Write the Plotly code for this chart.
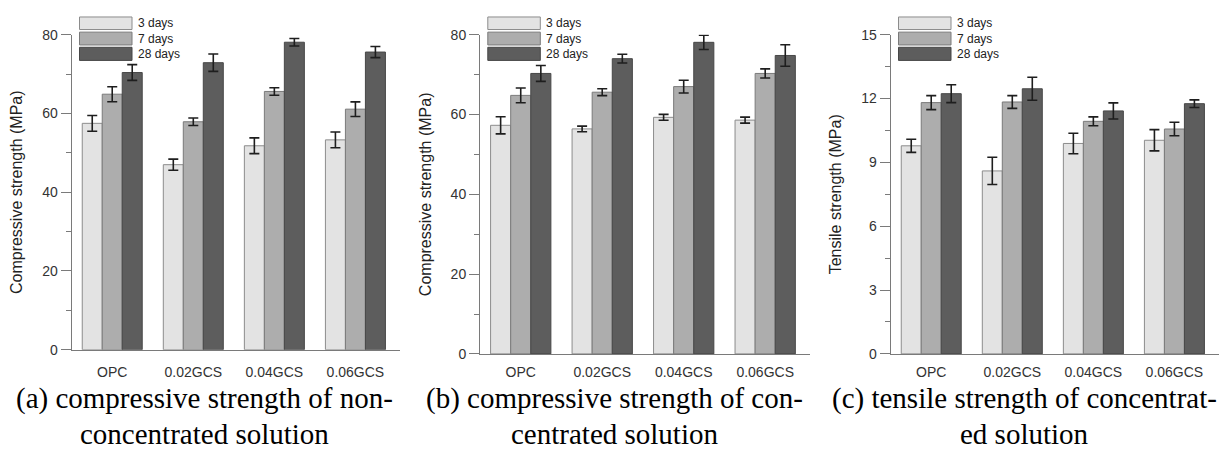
import plotly.graph_objects as go

# ---------------- data ----------------
categories = ["OPC", "0.02GCS", "0.04GCS", "0.06GCS"]
ages = ["3 days", "7 days", "28 days"]

# (a) compressive strength, non-concentrated solution (MPa)
a_3d = [57.5, 47.0, 51.8, 53.3]
a_3d_err = [2.0, 1.4, 2.0, 2.0]
a_7d = [64.9, 57.9, 65.6, 61.1]
a_7d_err = [1.9, 0.95, 0.95, 1.85]
a_28d = [70.4, 72.9, 78.1, 75.6]
a_28d_err = [2.0, 2.2, 0.95, 1.4]

# (b) compressive strength, concentrated solution (MPa)
b_3d = [57.3, 56.4, 59.3, 58.6]
b_3d_err = [2.15, 0.7, 0.75, 0.75]
b_7d = [64.8, 65.6, 67.0, 70.3]
b_7d_err = [1.85, 0.85, 1.6, 1.15]
b_28d = [70.3, 74.0, 78.1, 74.8]
b_28d_err = [2.0, 1.1, 1.8, 2.7]

# (c) tensile strength, concentrated solution (MPa)
c_3d = [9.78, 8.60, 9.89, 10.04]
c_3d_err = [0.31, 0.64, 0.48, 0.50]
c_7d = [11.81, 11.84, 10.93, 10.57]
c_7d_err = [0.33, 0.30, 0.21, 0.32]
c_28d = [12.23, 12.46, 11.42, 11.76]
c_28d_err = [0.42, 0.54, 0.38, 0.18]

y_titles = ["Compressive strength (MPa)", "Compressive strength (MPa)", "Tensile strength (MPa)"]
captions = [
    ["(a) compressive strength of non-", "concentrated solution"],
    ["(b) compressive strength of con-", "centrated solution"],
    ["(c) tensile strength of concentrat-", "ed solution"],
]

# ---------------- styling ----------------
W, H = 1229, 462
fills = ["#e3e3e3", "#adadad", "#5d5d5d"]
edges = ["#8c8c8c", "#7a7a7a", "#474747"]
axis_col = "#7a7a7a"
tick_font = dict(family="Liberation Sans, Arial, sans-serif", size=14, color="#333333")


def fx(p):
    return p / W


def fy(p):
    return 1 - p / H


# pixel boxes of the three plot areas: (left, right, top, bottom)
boxes = [(71.7, 400.0, 27.7, 354.0), (480.0, 810.0, 27.7, 358.3), (890.7, 1219.0, 27.7, 358.3)]
label_standoffs = [9, 5, 5]
y_ranges = [[0, 80], [0, 80], [0, 15]]
y_dticks = [20, 20, 3]

panels = [
    [(a_3d, a_3d_err), (a_7d, a_7d_err), (a_28d, a_28d_err)],
    [(b_3d, b_3d_err), (b_7d, b_7d_err), (b_28d, b_28d_err)],
    [(c_3d, c_3d_err), (c_7d, c_7d_err), (c_28d, c_28d_err)],
]

fig = go.Figure()
layout = dict(
    width=W, height=H, margin=dict(l=0, r=0, t=0, b=0),
    paper_bgcolor="white", plot_bgcolor="white",
    barmode="group", bargap=0.26, bargroupgap=0.0,
    showlegend=False,
)
shapes, annotations = [], []

for i, series in enumerate(panels):
    sfx = "" if i == 0 else str(i + 1)
    xa, ya = "x" + sfx, "y" + sfx
    for k, (vals, errs) in enumerate(series):
        fig.add_trace(go.Bar(
            x=categories, y=vals, name=ages[k], xaxis=xa, yaxis=ya,
            offsetgroup=str(k),
            marker=dict(color=fills[k], line=dict(color=edges[k], width=1)),
            error_y=dict(type="data", array=errs, visible=True,
                         color="#1e1e1e", thickness=1.6, width=5),
        ))
    l, r, t, b = boxes[i]
    layout["xaxis" + sfx] = dict(
        domain=[fx(l), fx(r)], anchor=ya, range=[-0.5, 3.55],
        showline=True, linecolor=axis_col, linewidth=1, ticks="",
        ticklabelstandoff=label_standoffs[i],
        tickfont=tick_font, showgrid=False, zeroline=False, fixedrange=True,
    )
    layout["yaxis" + sfx] = dict(
        domain=[fy(b), fy(t)], anchor=xa, range=y_ranges[i],
        dtick=y_dticks[i], tick0=0,
        showline=True, linecolor=axis_col, linewidth=1,
        ticks="outside", ticklen=10, tickcolor=axis_col, tickwidth=1,
        minor=dict(dtick=y_dticks[i] / 2, ticks="outside", ticklen=5,
                   tickcolor=axis_col, tickwidth=1),
        tickfont=tick_font, showgrid=False, zeroline=False, fixedrange=True,
        title=dict(text=y_titles[i], standoff=15,
                   font=dict(family="Liberation Sans, Arial, sans-serif", size=16, color="#222222")),
    )

    # legend block (large swatches like the original)
    sw_l = l + 7.8
    sw_r = sw_l + 52.5
    rows = [(9.3, 22.3), (25.0, 38.3), (40.7, 54.3)]
    for k, (rt, rb) in enumerate(rows):
        shapes.append(dict(
            type="rect", xref="paper", yref="paper",
            x0=fx(sw_l), x1=fx(sw_r), y0=fy(rb), y1=fy(rt),
            fillcolor=fills[k], line=dict(color=edges[k], width=1),
        ))
        annotations.append(dict(
            xref="paper", yref="paper", x=fx(sw_r + 4), y=fy((rt + rb) / 2),
            text=ages[k], showarrow=False, xanchor="left", yanchor="middle",
            font=dict(family="Liberation Sans, Arial, sans-serif", size=12, color="#222222"),
        ))

    # caption below the panel
    cx = (2 * i + 1) / 6
    for j, line in enumerate(captions[i]):
        annotations.append(dict(
            xref="paper", yref="paper", x=cx, y=fy(404 + 37 * j),
            text=line, showarrow=False, xanchor="center", yanchor="middle",
            font=dict(family="Liberation Serif, Times New Roman, serif", size=29, color="#000000"),
        ))

layout["shapes"] = shapes
layout["annotations"] = annotations
fig.update_layout(**layout)
fig.write_html("out.html")
